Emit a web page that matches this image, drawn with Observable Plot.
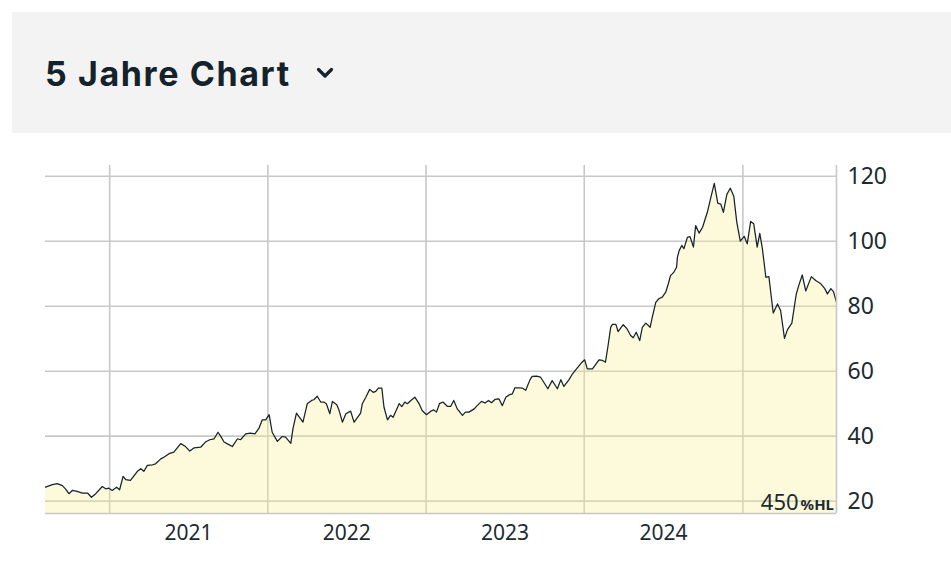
<!DOCTYPE html>
<html>
<head>
<meta charset="utf-8">
<script src="https://cdn.jsdelivr.net/npm/d3@7"></script>
<script src="https://cdn.jsdelivr.net/npm/@observablehq/plot@0.6"></script>
<style>
  html, body { margin: 0; padding: 0; background: #ffffff; }
  body { width: 951px; height: 568px; overflow: hidden; position: relative; font-family: "Noto Sans", sans-serif; }
  #head { position: absolute; left: 12px; top: 12px; width: 939px; height: 121px; background: #f3f3f3; }
  #title { position: absolute; left: 45px; top: 57px; font: 700 34px/34px Inter, sans-serif; letter-spacing: 1.6px; color: #13222b; white-space: nowrap; }
  #chev { position: absolute; left: 316px; top: 67px; }
  #chart { position: absolute; left: 0; top: 140px; }
  #mark { position: absolute; right: 117px; top: 486px; color: #1d2a31; white-space: nowrap; }
  #mark .n { font: 400 22px "Noto Sans", sans-serif; }
  #mark .u { font: 700 15px "Noto Sans", sans-serif; margin-left: 2px; }
</style>
</head>
<body>
<div id="head"></div>
<div id="title">5 Jahre Chart</div>
<svg id="chev" width="18" height="13" viewBox="0 0 18 13"><polyline points="2.5,2.5 9,9 15.5,2.5" fill="none" stroke="#13222b" stroke-width="3.2" stroke-linecap="round" stroke-linejoin="round"/></svg>
<div id="chart"></div>
<div id="mark"><span class="n">450</span><span class="u">%HL</span></div>
<script>
const dates = [
"2020-08-06","2020-08-22","2020-09-02","2020-09-14","2020-09-21","2020-09-29","2020-10-07","2020-10-18","2020-10-30","2020-11-11",
"2020-11-20","2020-11-30","2020-12-15","2020-12-23","2020-12-30","2021-01-07","2021-01-17","2021-01-24","2021-02-01","2021-02-07",
"2021-02-18","2021-03-06","2021-03-14","2021-03-21","2021-03-29","2021-04-10","2021-04-17","2021-04-29","2021-05-06","2021-05-18",
"2021-05-29","2021-06-14","2021-06-25","2021-07-05","2021-07-15","2021-07-30","2021-08-11","2021-08-20","2021-08-30","2021-09-08",
"2021-09-14","2021-09-22","2021-10-03","2021-10-11","2021-10-23","2021-10-30","2021-11-11","2021-11-22","2021-12-02","2021-12-11",
"2021-12-19","2021-12-27","2022-01-04","2022-01-11","2022-01-23","2022-02-03","2022-02-11","2022-02-23","2022-02-28","2022-03-08",
"2022-03-15","2022-03-23","2022-04-02","2022-04-12","2022-04-17","2022-04-25","2022-05-03","2022-05-10","2022-05-16","2022-05-24",
"2022-05-30","2022-06-09","2022-06-14","2022-06-22","2022-06-30","2022-07-11","2022-07-19","2022-07-27","2022-08-03","2022-08-07",
"2022-08-15","2022-08-24","2022-09-01","2022-09-07","2022-09-13","2022-09-21","2022-09-26","2022-10-04","2022-10-11","2022-10-17",
"2022-10-31","2022-11-06","2022-11-13","2022-11-19","2022-11-27","2022-12-06","2022-12-16","2022-12-23","2023-01-02","2023-01-12",
"2023-01-19","2023-01-25","2023-02-01","2023-02-09","2023-02-19","2023-02-27","2023-03-06","2023-03-14","2023-03-26","2023-04-02",
"2023-04-10","2023-04-22","2023-04-29","2023-05-09","2023-05-17","2023-05-25","2023-06-01","2023-06-09","2023-06-18","2023-06-26",
"2023-07-04","2023-07-13","2023-07-19","2023-07-25","2023-08-02","2023-08-11","2023-08-19","2023-08-29","2023-09-03","2023-09-13",
"2023-09-22","2023-10-09","2023-10-19","2023-10-31","2023-11-08","2023-11-15","2023-11-27","2023-12-05","2023-12-16","2023-12-25",
"2024-01-02","2024-01-08","2024-01-20","2024-02-04","2024-02-12","2024-02-19","2024-02-25","2024-03-02","2024-03-06","2024-03-14",
"2024-03-19","2024-03-31","2024-04-09","2024-04-17","2024-04-23","2024-04-30","2024-05-08","2024-05-14","2024-05-22","2024-06-01",
"2024-06-06","2024-06-14","2024-06-21","2024-06-29","2024-07-07","2024-07-13","2024-07-18","2024-07-26","2024-08-01","2024-08-03",
"2024-08-07","2024-08-13","2024-08-18","2024-08-26","2024-09-01","2024-09-09","2024-09-14","2024-09-22","2024-09-30","2024-10-11",
"2024-10-19","2024-10-27","2024-11-04","2024-11-11","2024-11-17","2024-11-25","2024-12-03","2024-12-11","2024-12-18","2024-12-26",
"2025-01-04","2025-01-11","2025-01-19","2025-01-26","2025-02-03","2025-02-09","2025-02-15","2025-02-23","2025-03-02","2025-03-12",
"2025-03-22","2025-03-29","2025-04-07","2025-04-14","2025-04-24","2025-05-04","2025-05-10","2025-05-18","2025-05-26","2025-06-08",
"2025-06-18","2025-06-29","2025-07-09","2025-07-15","2025-07-23","2025-07-29","2025-08-05"
];
const values = [
24.3,25.1,25.4,24.8,23.8,22.3,23.3,23.0,22.5,22.5,
21.2,22.3,24.5,23.8,24.0,23.3,24.3,23.5,27.6,26.6,
26.4,29.2,30.0,29.2,31.0,31.2,31.5,33.0,33.5,34.6,
35.1,37.7,36.8,35.4,36.4,36.6,38.3,38.9,39.2,41.2,
40.0,38.2,37.4,36.8,39.2,38.9,40.7,40.9,40.7,42.3,
45.0,45.0,46.6,41.2,38.4,39.9,39.7,37.8,42.3,47.1,
45.8,44.3,50.0,51.0,51.2,52.3,50.5,50.5,50.0,46.9,
50.7,49.7,48.1,44.3,46.9,47.7,44.3,45.8,47.1,50.0,
52.0,54.4,53.5,53.8,54.8,54.8,48.9,45.0,46.4,45.8,
50.0,49.1,50.5,50.0,51.0,52.0,50.0,47.9,46.6,47.7,
48.1,47.4,50.0,50.5,49.2,49.2,51.0,48.4,46.4,47.4,
47.4,48.4,49.4,50.7,50.2,51.0,50.3,51.3,51.5,49.4,
52.0,52.8,53.0,54.9,54.9,54.8,54.1,57.4,58.4,58.5,
58.2,54.6,57.1,54.6,57.4,55.3,57.4,59.2,61.0,62.5,
63.5,60.7,60.7,63.5,63.3,62.8,67.9,73.5,74.4,74.4,
72.2,74.3,73.0,71.0,70.3,72.0,69.4,73.5,74.8,73.5,
76.6,81.2,82.3,82.8,84.3,86.9,89.4,90.5,92.0,95.1,
97.1,98.7,97.7,101.2,101.4,98.2,104.8,102.5,104.3,108.9,
113.4,117.8,111.7,111.4,108.9,114.4,116.3,113.8,105.8,100.0,
101.5,99.2,106.1,105.4,98.2,102.4,97.7,88.9,89.1,77.9,
80.7,78.7,70.1,72.8,74.8,83.6,86.4,89.6,84.7,89.1,
87.9,87.0,85.4,83.8,85.4,84.5,81.2
];
const xDomain = ["2020-08-06", "2025-08-05"];
const yDomain = [16.2, 123.3];
const yTicks = [20, 40, 60, 80, 100, 120];
const yearStarts = ["2021-01-01", "2022-01-01", "2023-01-01", "2024-01-01", "2025-01-01"];
const yearLabelDates = ["2021-07-02", "2022-07-02", "2023-07-02", "2024-07-02"];
const yearLabels = ["2021", "2022", "2023", "2024"];

const data = dates.map((d, i) => ({date: new Date(d), value: values[i]}));
const xd = xDomain.map(d => new Date(d));
const labelDates = yearLabelDates.map(d => new Date(d));

const chart = Plot.plot({
  width: 951,
  height: 428,
  marginTop: 25,
  marginBottom: 55,
  marginLeft: 45,
  marginRight: 115,
  x: {type: "utc", domain: xd},
  y: {domain: yDomain},
  style: {fontFamily: "'Noto Sans', sans-serif", color: "#1d2a31", background: "transparent", overflow: "visible"},
  marks: [
    Plot.ruleY(yTicks, {stroke: "#c8c8c8", strokeWidth: 1.6}),
    Plot.ruleX(yearStarts.map(d => new Date(d)), {stroke: "#c8c8c8", strokeWidth: 1.6}),
    Plot.areaY(data, {x: "date", y1: yDomain[0], y2: "value", fill: "#faf096", fillOpacity: 0.33}),
    Plot.lineY(data, {x: "date", y: "value", stroke: "#16232a", strokeWidth: 1.25}),
    Plot.ruleY([yDomain[0]], {stroke: "#c8c8c8", strokeWidth: 1.6}),
    Plot.ruleX([xd[1]], {stroke: "#c8c8c8", strokeWidth: 1.6}),
    Plot.axisY(yTicks, {anchor: "right", tickSize: 0, tickPadding: 11, fontSize: 23, label: null}),
    Plot.axisX(labelDates, {anchor: "bottom", tickSize: 0, tickPadding: 12, fontSize: 21, label: null,
      tickFormat: (d, i) => yearLabels[i]})
  ]
});
document.getElementById("chart").appendChild(chart);
</script>
</body>
</html>
